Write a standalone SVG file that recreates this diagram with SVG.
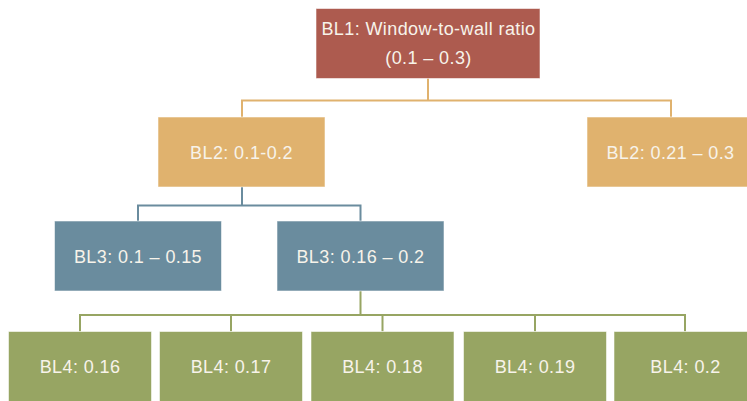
<svg xmlns="http://www.w3.org/2000/svg" width="747" height="401" viewBox="0 0 747 401">
<style>
.box{stroke:#ffffff;stroke-opacity:0.55;stroke-width:1}
.l1{fill:#AD5B4F}
.l2{fill:#E0B26E}
.l3{fill:#6A8C9E}
.l4{fill:#97A563}
.t{font-family:"Liberation Sans",Arial,sans-serif;font-size:18px;letter-spacing:0.4px;fill:#F7F3EA;text-anchor:middle}
.c{fill:none;stroke-width:2}
.c2{stroke:#E0B26E}
.c3{stroke:#6A8C9E}
.c4{stroke:#97A563}
</style>
<rect width="747" height="401" fill="#ffffff"/>
<g id="connectors">
<path class="c c2" d="M428 78 V100.5 M242 117 V100.5 H671 V117"/>
<path class="c c3" d="M242 187 V205.5 M138 221 V205.5 H360.5 V221"/>
<path class="c c4" d="M360.5 291 V315 M80 331.5 V315 H685 V331.5 M231 315 V331.5 M382.5 315 V331.5 M535 315 V331.5"/>
</g>
<g id="bl1">
<rect class="box l1" x="316" y="8.5" width="224" height="70"/>
<text class="t" x="428.5" y="34.5">BL1: Window-to-wall ratio</text>
<text class="t" x="428.5" y="64">(0.1 – 0.3)</text>
</g>
<g id="bl2a">
<rect class="box l2" x="158" y="117" width="167" height="70"/>
<text class="t" x="241.5" y="158.5">BL2: 0.1-0.2</text>
</g>
<g id="bl2b">
<rect class="box l2" x="587" y="117" width="167" height="70"/>
<text class="t" x="670.5" y="158.5">BL2: 0.21 – 0.3</text>
</g>
<g id="bl3a">
<rect class="box l3" x="54.5" y="221" width="167" height="70"/>
<text class="t" x="138" y="262.5">BL3: 0.1 – 0.15</text>
</g>
<g id="bl3b">
<rect class="box l3" x="277" y="221" width="167" height="70"/>
<text class="t" x="360.5" y="262.5">BL3: 0.16 – 0.2</text>
</g>
<g id="bl4a">
<rect class="box l4" x="8.5" y="331.5" width="143" height="80"/>
<text class="t" x="80" y="373">BL4: 0.16</text>
</g>
<g id="bl4b">
<rect class="box l4" x="159.5" y="331.5" width="143" height="80"/>
<text class="t" x="231" y="373">BL4: 0.17</text>
</g>
<g id="bl4c">
<rect class="box l4" x="311" y="331.5" width="143" height="80"/>
<text class="t" x="382.5" y="373">BL4: 0.18</text>
</g>
<g id="bl4d">
<rect class="box l4" x="463.5" y="331.5" width="143" height="80"/>
<text class="t" x="535" y="373">BL4: 0.19</text>
</g>
<g id="bl4e">
<rect class="box l4" x="614" y="331.5" width="143" height="80"/>
<text class="t" x="685.5" y="373">BL4: 0.2</text>
</g>
</svg>
